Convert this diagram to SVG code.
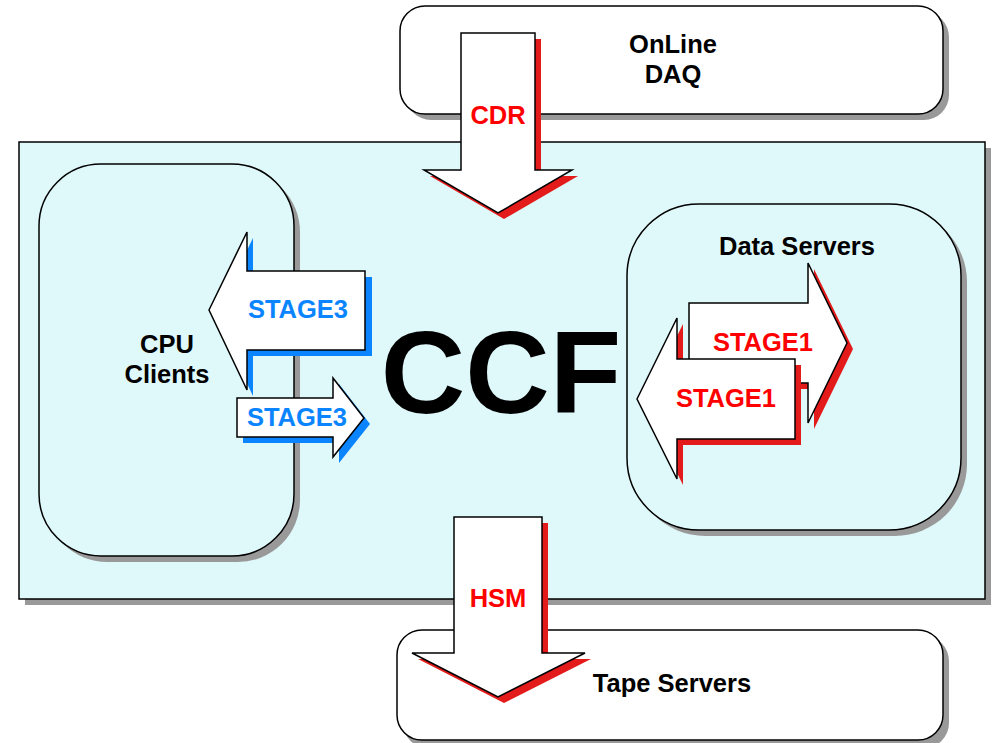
<svg xmlns="http://www.w3.org/2000/svg" width="994" height="743" viewBox="0 0 994 743">
<style>
.shadow{fill:#999999}
.box{stroke:#000;stroke-width:1.5}
.arrow{fill:#fff;stroke:#000;stroke-width:1.5;stroke-linejoin:miter}
.rs{fill:#E31B1B}
.bs{fill:#0A84FF}
.lbl{font-family:"Liberation Sans",Arial,sans-serif;font-weight:bold;font-size:25.5px;text-anchor:middle}
.red{fill:#FF0000}
.blue{fill:#0A84FF}
</style>
<rect width="994" height="743" fill="#fff"/>
<g id="daq">
<rect class="shadow" x="406" y="12" width="543" height="108" rx="25"/>
<rect class="box" x="400" y="6" width="543" height="108" rx="25" fill="#fff"/>
<text class="lbl" x="673" y="53">OnLine</text>
<text class="lbl" x="673" y="83">DAQ</text>
</g>
<g id="ccf">
<rect class="shadow" x="25" y="148" width="966" height="457"/>
<rect class="box" x="19" y="142" width="966" height="457" fill="#DFF8FA"/>
<text x="501" y="413" font-family="'Liberation Sans',Arial,sans-serif" font-weight="bold" font-size="117" text-anchor="middle" fill="#000">CCF</text>
</g>
<g id="tape">
<rect class="shadow" x="403" y="636" width="546" height="112" rx="25"/>
<rect class="box" x="397" y="630" width="546" height="110" rx="25" fill="#fff"/>
<text class="lbl" x="672" y="692">Tape Servers</text>
</g>
<g id="cpu">
<rect class="shadow" x="45" y="170" width="255" height="392" rx="62"/>
<rect class="box" x="39" y="164" width="255" height="392" rx="62" fill="#DFF8FA"/>
<text class="lbl" x="167" y="353">CPU</text>
<text class="lbl" x="167" y="383">Clients</text>
</g>
<g id="dataservers">
<rect class="shadow" x="633" y="210" width="334" height="326" rx="72"/>
<rect class="box" x="627" y="204" width="334" height="326" rx="72" fill="#DFF8FA"/>
<text class="lbl" x="797" y="255">Data Servers</text>
</g>
<g id="connectors">
<g id="cdr">
<polygon class="rs" points="467,39 541,39 541,176 578,176 504,219 430,176 467,176"/>
<polygon class="arrow" points="461,33 535,33 535,170 572,170 498,213 424,170 461,170"/>
<text class="lbl red" x="498" y="124">CDR</text>
</g>
<g id="hsm">
<polygon class="rs" points="460,523 548,523 548,659 591,659 504,703 418,659 460,659"/>
<polygon class="arrow" points="454,517 542,517 542,653 585,653 498,697 412,653 454,653"/>
<text class="lbl red" x="498" y="607">HSM</text>
</g>
<g id="stage3-out">
<polygon class="bs" points="215,316 253,238 253,277 372,277 372,356 253,356 253,396"/>
<polygon class="arrow" points="209,310 247,232 247,271 365,271 365,350 247,350 247,390"/>
<text class="lbl blue" x="298" y="318">STAGE3</text>
</g>
<g id="stage3-in">
<polygon class="bs" points="243,404 339,404 339,384 370,424 339,463 339,443 243,443"/>
<polygon class="arrow" points="237,398 333,398 333,378 364,418 333,457 333,437 237,437"/>
<text class="lbl blue" x="297" y="426">STAGE3</text>
</g>
<g id="stage1-out">
<polygon class="rs" points="695,309 814,309 814,269 853,349 814,429 814,389 695,389"/>
<polygon class="arrow" points="689,303 808,303 808,263 847,343 808,423 808,383 689,383"/>
<text class="lbl red" x="763" y="351">STAGE1</text>
</g>
<g id="stage1-in">
<polygon class="rs" points="643,405 683,324 683,365 801,365 801,445 683,445 683,485"/>
<polygon class="arrow" points="637,399 677,318 677,359 795,359 795,439 677,439 677,479"/>
<text class="lbl red" x="726" y="407">STAGE1</text>
</g>
</g>
</svg>
